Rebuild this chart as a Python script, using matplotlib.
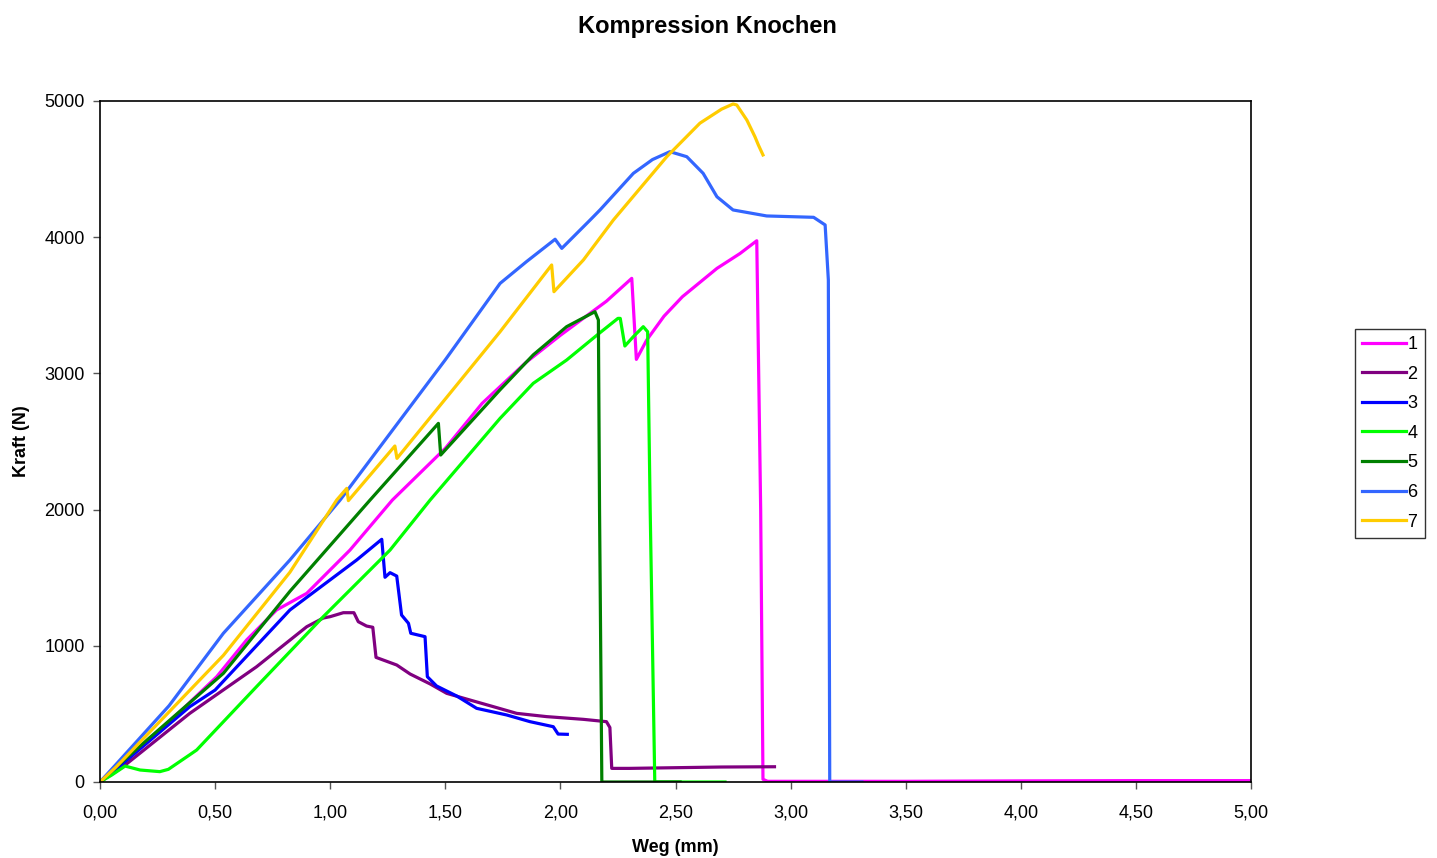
import numpy as np
import matplotlib.pyplot as plt
from matplotlib.ticker import FuncFormatter, MultipleLocator

# Weg (mm) / Kraft (N) for each specimen
weg1 = [0, 0.07, 0.2, 0.35, 0.507, 0.637, 0.767, 0.898, 1.086, 1.27, 1.5, 1.66, 1.85, 2.0, 2.2, 2.31, 2.33, 2.375, 2.45, 2.53, 2.68, 2.78, 2.853, 2.87, 2.88, 2.9, 3.5, 4.0, 4.5, 5.0]
kraft1 = [0, 120, 290, 520, 773, 1043, 1263, 1385, 1703, 2070, 2450, 2780, 3080, 3280, 3530, 3698, 3103, 3245, 3420, 3563, 3771, 3880, 3974, 2000, 20, 5, 5, 8, 10, 10]

weg2 = [0, 0.10, 0.39, 0.68, 0.898, 0.97, 1.0, 1.057, 1.103, 1.122, 1.158, 1.185, 1.199, 1.289, 1.347, 1.434, 1.506, 1.607, 1.709, 1.81, 1.94, 2.10, 2.20, 2.215, 2.223, 2.30, 2.5, 2.7, 2.93]
kraft2 = [0, 112, 504, 846, 1140, 1204, 1214, 1243, 1243, 1177, 1145, 1136, 915, 859, 793, 720, 651, 602, 553, 504, 480, 460, 443, 400, 100, 100, 105, 110, 112]

weg3 = [0, 0.10, 0.39, 0.5, 0.825, 1.115, 1.224, 1.238, 1.26, 1.289, 1.31, 1.34, 1.35, 1.412, 1.422, 1.462, 1.55, 1.636, 1.767, 1.868, 1.969, 1.99, 2.03]
kraft3 = [0, 137, 553, 675, 1263, 1630, 1782, 1503, 1537, 1512, 1226, 1165, 1092, 1067, 773, 705, 631, 541, 492, 443, 406, 352, 350]

weg4 = [0, 0.05, 0.109, 0.174, 0.26, 0.297, 0.39, 0.42, 0.68, 0.97, 1.26, 1.434, 1.738, 1.882, 2.027, 2.172, 2.25, 2.26, 2.28, 2.317, 2.36, 2.379, 2.39, 2.41, 2.5, 2.715]
kraft4 = [0, 50, 117, 88, 76, 93, 200, 235, 700, 1214, 1703, 2070, 2670, 2927, 3098, 3299, 3404, 3404, 3201, 3270, 3343, 3306, 2000, 0, 0, 0]

weg5 = [0, 0.07, 0.536, 0.825, 1.173, 1.47, 1.48, 1.738, 1.882, 2.027, 2.15, 2.165, 2.17, 2.18, 2.3, 2.52]
kraft5 = [0, 110, 798, 1400, 2070, 2633, 2401, 2880, 3136, 3343, 3453, 3392, 2000, 0, 0, 0]

weg6 = [0, 0.07, 0.3, 0.536, 0.825, 1.043, 1.5, 1.738, 1.853, 1.977, 2.006, 2.129, 2.172, 2.317, 2.40, 2.476, 2.549, 2.62, 2.68, 2.75, 2.896, 3.10, 3.15, 3.164, 3.17, 3.2, 3.31]
kraft6 = [0, 130, 560, 1092, 1630, 2070, 3100, 3661, 3821, 3985, 3918, 4126, 4200, 4469, 4570, 4628, 4591, 4469, 4297, 4200, 4156, 4146, 4090, 3686, 0, 0, 0]

weg7 = [0, 0.07, 0.536, 0.825, 1.028, 1.072, 1.079, 1.281, 1.29, 1.738, 1.962, 1.972, 2.1, 2.23, 2.462, 2.606, 2.70, 2.75, 2.766, 2.81, 2.845, 2.86, 2.88]
kraft7 = [0, 110, 930, 1540, 2070, 2156, 2066, 2467, 2376, 3306, 3796, 3600, 3833, 4126, 4591, 4837, 4940, 4978, 4971, 4860, 4738, 4677, 4604]

namen = ['1', '2', '3', '4', '5', '6', '7']
farben = ['#FF00FF', '#800080', '#0000FF', '#00FF00', '#008000', '#3366FF', '#FFCC00']

plt.rcParams['font.family'] = ['Liberation Sans', 'DejaVu Sans']

fig = plt.figure(figsize=(14.37, 8.58), dpi=100)
ax = fig.add_axes([100 / 1437, 1 - 782 / 858, 1151 / 1437, 681 / 858])

alle = [(weg1, kraft1), (weg2, kraft2), (weg3, kraft3), (weg4, kraft4),
        (weg5, kraft5), (weg6, kraft6), (weg7, kraft7)]
for (w, k), n, c in zip(alle, namen, farben):
    ax.plot(w, k, color=c, lw=2.3, label=n, solid_joinstyle='round')

ax.set_xlim(0, 5)
ax.set_ylim(0, 5000)
ax.xaxis.set_major_locator(MultipleLocator(0.5))
ax.yaxis.set_major_locator(MultipleLocator(1000))
ax.xaxis.set_major_formatter(FuncFormatter(lambda v, p: f'{v:.2f}'.replace('.', ',')))
ax.yaxis.set_major_formatter(FuncFormatter(lambda v, p: f'{v:.0f}'))
ax.tick_params(labelsize=13, length=5, width=1, color='#555555')
ax.tick_params(axis='x', pad=11)
ax.tick_params(axis='y', pad=6)
for s in ax.spines.values():
    s.set_linewidth(1.2)

ax.set_xlabel('Weg (mm)', fontsize=13, fontweight='bold', labelpad=13)
ax.set_ylabel('Kraft (N)', fontsize=13, fontweight='bold', labelpad=10)
fig.text(707 / 1437, 1 - 27 / 858, 'Kompression Knochen', fontsize=17,
         fontweight='bold', ha='center', va='center')

leg = fig.legend(loc='center left', bbox_to_anchor=(1355 / 1437, 0.495),
                 fontsize=13, frameon=True, fancybox=False, edgecolor='black',
                 handlelength=2.4, handletextpad=0.1, labelspacing=0.7,
                 borderpad=0.4, borderaxespad=0)
leg.get_frame().set_linewidth(1.0)

fig.savefig('out.png', dpi=100)
